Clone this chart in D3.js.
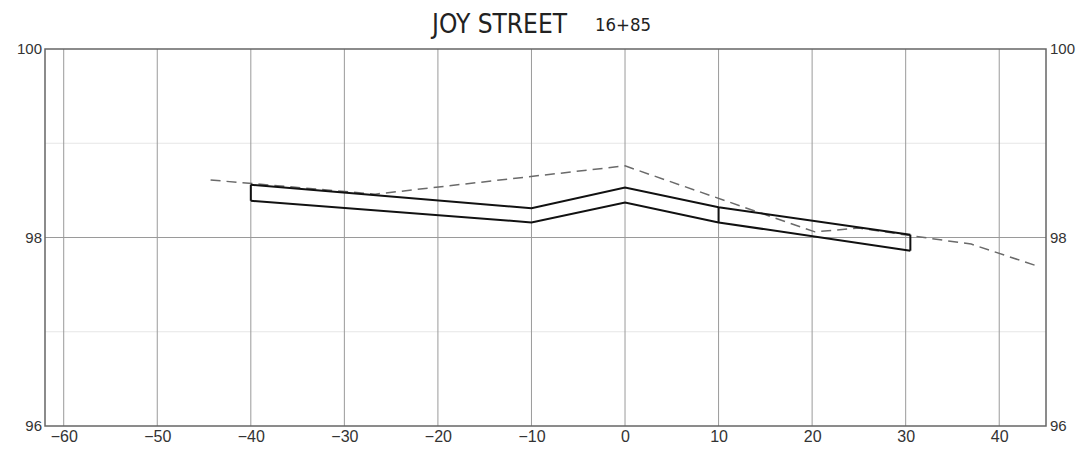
<!DOCTYPE html>
<html>
<head>
<meta charset="utf-8">
<script src="https://cdn.jsdelivr.net/npm/d3@7"></script>
<style>
  html, body { margin: 0; padding: 0; background: #fff; }
  svg { display: block; }
</style>
</head>
<body>
<svg id="chart" width="1079" height="453"></svg>
<script>
// ---- data ----
const titleMain = "JOY STREET";
const titleStation = "16+85";
const xTicks = [-60, -50, -40, -30, -20, -10, 0, 10, 20, 30, 40];
const yTicks = [96, 98, 100];
const yMinorTicks = [97, 99];
const xDomain = [-62, 45];
const yDomain = [96, 100];

// proposed section (template)
const templateX = [-40, -10, 0, 10, 30.5];
const templateTop = [98.56, 98.31, 98.53, 98.32, 98.03];
const templateBottom = [98.39, 98.16, 98.37, 98.16, 97.86];
const templateJoints = [-40, 10, 30.5];

// existing ground (dashed)
const groundX = [-44.3, -26.7, 0, 20.3, 25, 30.5, 37, 44.3];
const groundY = [98.61, 98.46, 98.76, 98.06, 98.10, 98.02, 97.93, 97.69];

// ---- layout ----
const svg = d3.select("#chart");
const L = 45, R = 1046, T = 49, B = 426;
const x = d3.scaleLinear().domain(xDomain).range([L, R]);
const y = d3.scaleLinear().domain(yDomain).range([B, T]);
const fontNum = "'Liberation Sans', Arial, sans-serif";
const fontTitle = "'DejaVu Sans Condensed', 'Liberation Sans', sans-serif";

// minor horizontal grid
svg.append("g").selectAll("line").data(yMinorTicks).join("line")
  .attr("x1", L).attr("x2", R)
  .attr("y1", d => y(d)).attr("y2", d => y(d))
  .attr("stroke", "#e6e6e6").attr("stroke-width", 1);

// major horizontal grid
svg.append("g").selectAll("line").data(yTicks.filter(d => d !== yDomain[0] && d !== yDomain[1])).join("line")
  .attr("x1", L).attr("x2", R)
  .attr("y1", d => y(d)).attr("y2", d => y(d))
  .attr("stroke", "#9a9a9a").attr("stroke-width", 1);

// vertical grid
svg.append("g").selectAll("line").data(xTicks).join("line")
  .attr("x1", d => x(d)).attr("x2", d => x(d))
  .attr("y1", T).attr("y2", B)
  .attr("stroke", "#9a9a9a").attr("stroke-width", 1);

// frame
svg.append("rect")
  .attr("x", L).attr("y", T).attr("width", R - L).attr("height", B - T)
  .attr("fill", "none").attr("stroke", "#666").attr("stroke-width", 1.5);

// axes (labels only)
const fmt = d => d3.format("d")(d);
const bottomAxis = d3.axisBottom(x).tickValues(xTicks).tickSize(0).tickPadding(5).tickFormat(fmt);
svg.append("g").attr("transform", `translate(0,${B})`).call(bottomAxis)
  .call(g => g.select(".domain").remove())
  .selectAll("text").attr("font-size", 16).attr("font-family", fontNum).attr("fill", "#333");

const leftAxis = d3.axisLeft(y).tickValues(yTicks).tickSize(0).tickPadding(3).tickFormat(fmt);
svg.append("g").attr("transform", `translate(${L},0)`).call(leftAxis)
  .call(g => g.select(".domain").remove())
  .selectAll("text").attr("font-size", 15).attr("font-family", fontNum).attr("fill", "#333");

const rightAxis = d3.axisRight(y).tickValues(yTicks).tickSize(0).tickPadding(4).tickFormat(fmt);
svg.append("g").attr("transform", `translate(${R},0)`).call(rightAxis)
  .call(g => g.select(".domain").remove())
  .selectAll("text").attr("font-size", 15).attr("font-family", fontNum).attr("fill", "#333");

// existing ground dashed
const groundPts = groundX.map((d, i) => [d, groundY[i]]);
svg.append("path")
  .attr("d", d3.line().x(d => x(d[0])).y(d => y(d[1]))(groundPts))
  .attr("fill", "none").attr("stroke", "#6a6a6a").attr("stroke-width", 1.5)
  .attr("stroke-dasharray", "10,6");

// template
const topPts = templateX.map((d, i) => [d, templateTop[i]]);
const botPts = templateX.map((d, i) => [d, templateBottom[i]]);
const line = d3.line().x(d => x(d[0])).y(d => y(d[1]));
svg.append("path").attr("d", line(topPts))
  .attr("fill", "none").attr("stroke", "#111").attr("stroke-width", 2);
svg.append("path").attr("d", line(botPts))
  .attr("fill", "none").attr("stroke", "#111").attr("stroke-width", 2);
svg.append("g").selectAll("line").data(templateJoints).join("line")
  .attr("x1", d => x(d)).attr("x2", d => x(d))
  .attr("y1", d => y(templateTop[templateX.indexOf(d)]))
  .attr("y2", d => y(templateBottom[templateX.indexOf(d)]))
  .attr("stroke", "#111").attr("stroke-width", 2);

// title
svg.append("text").text(titleMain)
  .attr("x", 432).attr("y", 33)
  .attr("textLength", 135).attr("lengthAdjust", "spacingAndGlyphs")
  .attr("font-family", fontTitle).attr("font-size", 27).attr("fill", "#222");
svg.append("text").text(titleStation)
  .attr("x", 595).attr("y", 31)
  .attr("textLength", 56).attr("lengthAdjust", "spacingAndGlyphs")
  .attr("font-family", fontTitle).attr("font-size", 18).attr("fill", "#222");
</script>
</body>
</html>
